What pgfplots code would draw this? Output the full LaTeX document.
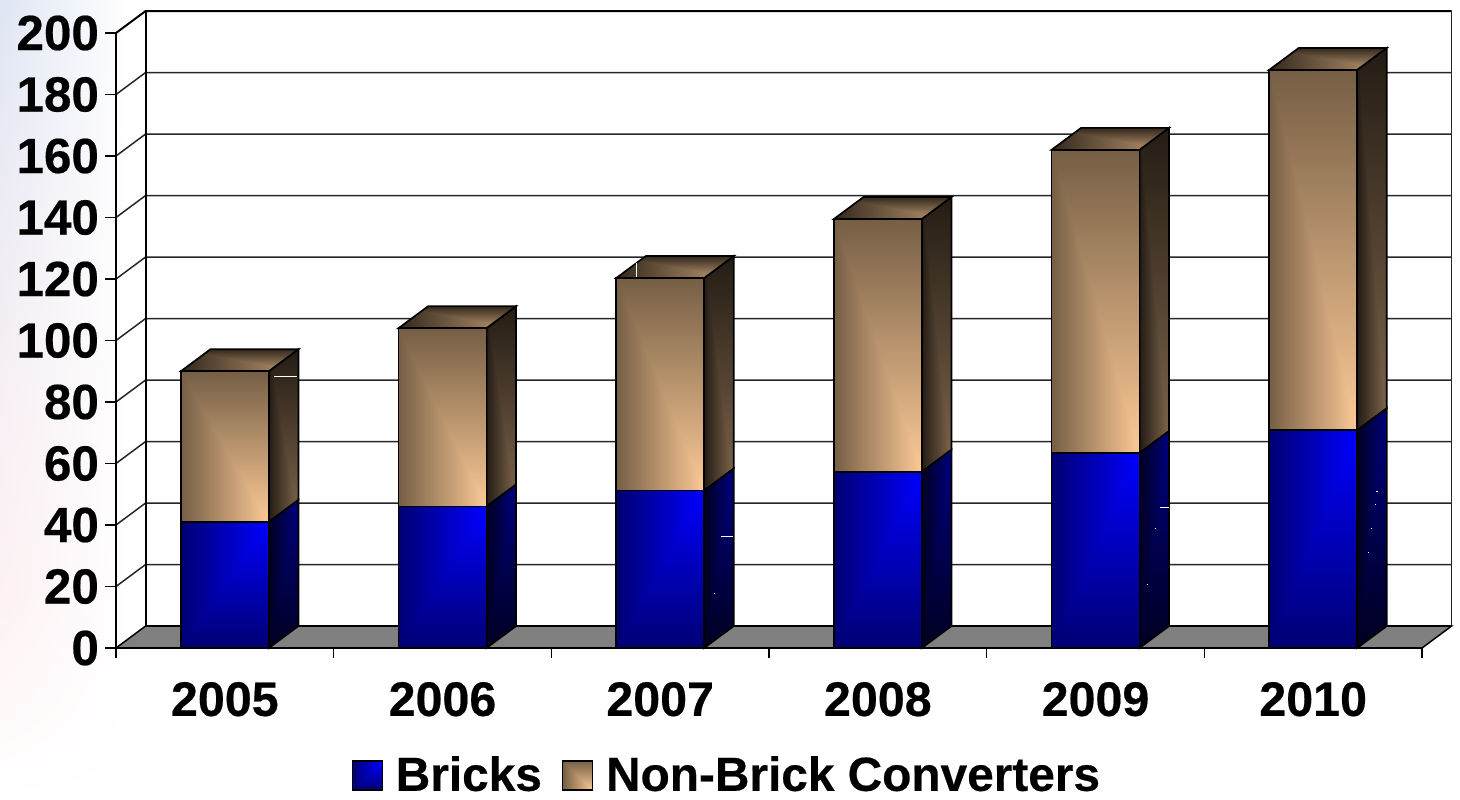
\documentclass[border=0pt]{standalone}
\usepackage{fontspec}
\setmainfont[BoldFeatures={FakeBold=0.4}]{Liberation Sans}
\usepackage{pgfplots}
\usepackage{pgfplotstable}
\pgfplotsset{compat=1.18}

% From-corner gradients. Stack on entry: x y; the unit t grows away from the bright corner.
% #1 name, #2 r0, #3 dr, #4 g0, #5 dg, #6 b0, #7 db
\newcommand\lowercorner[7]{%
  \pgfdeclarefunctionalshading{#1}{\pgfpointorigin}{\pgfpoint{100bp}{100bp}}{}{%
    25 sub 50 div exch 75 exch sub 50 div
    2 copy lt {exch} if pop
    dup 1 gt {pop 1} if dup 0 lt {pop 0} if
    dup #3 mul #2 add exch dup #5 mul #4 add exch #7 mul #6 add}}
\newcommand\uppercorner[7]{%
  \pgfdeclarefunctionalshading{#1}{\pgfpointorigin}{\pgfpoint{100bp}{100bp}}{}{%
    75 exch sub 50 div exch 75 exch sub 50 div
    2 copy lt {exch} if pop
    dup 1 gt {pop 1} if dup 0 lt {pop 0} if
    dup #3 mul #2 add exch dup #5 mul #4 add exch #7 mul #6 add}}

\lowercorner{tanfront}{0.99}{-0.53}{0.79}{-0.42}{0.59}{-0.32}
\lowercorner{tanside}{0.50}{-0.36}{0.40}{-0.29}{0.30}{-0.22}
\lowercorner{tantop}{0.75}{-0.55}{0.60}{-0.44}{0.45}{-0.34}
\uppercorner{bluefront}{0}{0}{0}{0}{1}{-0.55}
\uppercorner{blueside}{0}{0}{0}{0}{0.50}{-0.37}

% Pale wash down the left margin of the page
\pgfdeclarefunctionalshading{wash}{\pgfpointorigin}{\pgfpoint{100bp}{100bp}}{}{%
  25 sub 50 div exch 75 exch sub 50 div
  exch dup 4 mul dup 1 gt {pop 1} if 3 -1 roll mul
  2 copy exch dup mul 0.13 mul mul 1 exch sub
  3 1 roll
  2 copy exch dup mul 0.05 mul 0.05 add mul 1 exch sub
  3 1 roll exch pop 0.045 mul 1 exch sub}

\pgfplotstableread{
year bricks total
2005 41.0  90.0
2006 46.0  104.0
2007 51.2  120.3
2008 57.3  139.5
2009 63.4  162.0
2010 70.8  188.0
}\convertertable

\newcommand\depthx{0.1360}
\newcommand\depthy{7.15}
\newcommand\halfbar{0.202}

\newcommand\shape[2]{%
  \edef\temp{\noexpand\addplot[forget plot,#1] coordinates {#2} --cycle;}\temp}
\newcommand\wire[2]{%
  \edef\temp{\noexpand\addplot[forget plot,#1] coordinates {#2};}\temp}
% short white flecks on the bar sides, given in page pixels
\newcommand\fleck[4]{%
  \pgfmathsetmacro\fxa{(#1-116)/217.67}\pgfmathsetmacro\fya{(648-#2)/3.075}%
  \pgfmathsetmacro\fxb{(#3-116)/217.67}\pgfmathsetmacro\fyb{(648-#4)/3.075}%
  \wire{white,line width=0.5pt}{(\fxa,\fya)(\fxb,\fyb)}}

\begin{document}
\begin{tikzpicture}
\useasboundingbox (0,0) rectangle (730pt,399.5pt);
\path[shade,shading=wash] (0,0) rectangle (65pt,399.5pt);
\begin{axis}[
  at={(58pt,75.5pt)},anchor=south west,
  scale only axis,width=653pt,height=307.5pt,
  xmin=0,xmax=6,ymin=0,ymax=200,clip=false,
  axis x line=bottom,axis y line=left,
  axis on top=true,
  axis line style={-,line width=1pt,black},
  tick align=outside,
  xtick={0.5,1.5,2.5,3.5,4.5,5.5},
  xticklabels={2005,2006,2007,2008,2009,2010},
  minor xtick={0,1,2,3,4,5,6},
  major x tick style={draw=none},
  minor x tick style={black,line width=0.75pt},
  minor tick length=5pt,
  ytick={0,20,...,200},
  major y tick style={black,line width=0.75pt},
  major tick length=5.5pt,
  /pgf/number format/assume math mode=true,
  xticklabel style={yshift=-8pt,font=\fontsize{24.2}{26}\selectfont\bfseries},
  yticklabel style={xshift=0.5pt,font=\fontsize{24.7}{26}\selectfont\bfseries},
  no markers,
  legend columns=2,
  legend style={draw=none,fill=none,at={(0.4685,-0.2065)},anchor=center,
    font=\fontsize{23.9}{26}\selectfont\bfseries,
    /tikz/every even column/.append style={column sep=8pt}},
]
  % floor of the plot box
  \shape{fill=black!50,draw=black,line width=0.75pt}{(0,0)(\depthx,\depthy)(6.136,\depthy)(6,0)}

  % rules on the side wall and back wall
  \pgfplotsinvokeforeach{20,40,...,180}{%
    \pgfmathsetmacro\gy{#1+\depthy}%
    \wire{black!85,line width=0.75pt}{(0,#1)(\depthx,\gy)(6.136,\gy)}}
  \wire{black,line width=1pt}{(0,200)(\depthx,207.15)(6.136,207.15)}
  \wire{black,line width=1pt}{(\depthx,\depthy)(\depthx,207.15)}
  \wire{black!85,line width=0.75pt}{(6.136,\depthy)(6.136,207.15)}
  \wire{black,line width=0.75pt}{(\depthx,\depthy)(6.136,\depthy)}

  % one stacked column per year
  \pgfplotsinvokeforeach{0,1,2,3,4,5}{%
    \pgfplotstablegetelem{#1}{bricks}\of\convertertable \let\lo\pgfplotsretval
    \pgfplotstablegetelem{#1}{total}\of\convertertable \let\hi\pgfplotsretval
    \pgfmathsetmacro\xl{#1+0.5-\halfbar}%
    \pgfmathsetmacro\xr{#1+0.5+\halfbar}%
    \pgfmathsetmacro\xlb{\xl+\depthx}%
    \pgfmathsetmacro\xrb{\xr+\depthx}%
    \pgfmathsetmacro\lob{\lo+\depthy}%
    \pgfmathsetmacro\hib{\hi+\depthy}%
    \shape{shade,shading=tanside,draw=black,line width=0.85pt}{(\xr,\lo)(\xrb,\lob)(\xrb,\hib)(\xr,\hi)}
    \shape{shade,shading=tantop,draw=black,line width=0.85pt}{(\xl,\hi)(\xlb,\hib)(\xrb,\hib)(\xr,\hi)}
    \shape{shade,shading=tanfront,draw=black,line width=0.85pt}{(\xl,\lo)(\xl,\hi)(\xr,\hi)(\xr,\lo)}
    \shape{shade,shading=blueside,draw=black,line width=0.85pt}{(\xr,0)(\xrb,\depthy)(\xrb,\lob)(\xr,\lo)}
    \shape{shade,shading=bluefront,draw=black,line width=0.85pt}{(\xl,0)(\xl,\lo)(\xr,\lo)(\xr,0)}
  }

  \fleck{274}{376}{297}{376}
  \fleck{637}{263}{637}{277}
  \fleck{721}{536}{733}{536}
  \fleck{1160}{507}{1169}{507}
  \fleck{1154.5}{528}{1155.5}{528}
  \fleck{1146.5}{584}{1147.5}{584}
  \fleck{1376}{491}{1378}{491}
  \fleck{1375}{504}{1376}{504}
  \fleck{1371}{528}{1372}{528}
  \fleck{1368}{552}{1369}{552}
  \fleck{714}{593}{715}{593}

  \addlegendimage{legend image code/.code={%
    \path[shade,shading=bluefront,draw=black,line width=0.75pt] (0,-7.5pt) rectangle (15pt,7pt);
    \path (19.5pt,0);}}
  \addlegendentry{Bricks}
  \addlegendimage{legend image code/.code={%
    \path[shade,shading=tanfront,draw=black,line width=0.75pt] (0,-7.5pt) rectangle (15pt,7pt);
    \path (19.5pt,0);}}
  \addlegendentry{Non-Brick Converters}
\end{axis}
\end{tikzpicture}
\end{document}
